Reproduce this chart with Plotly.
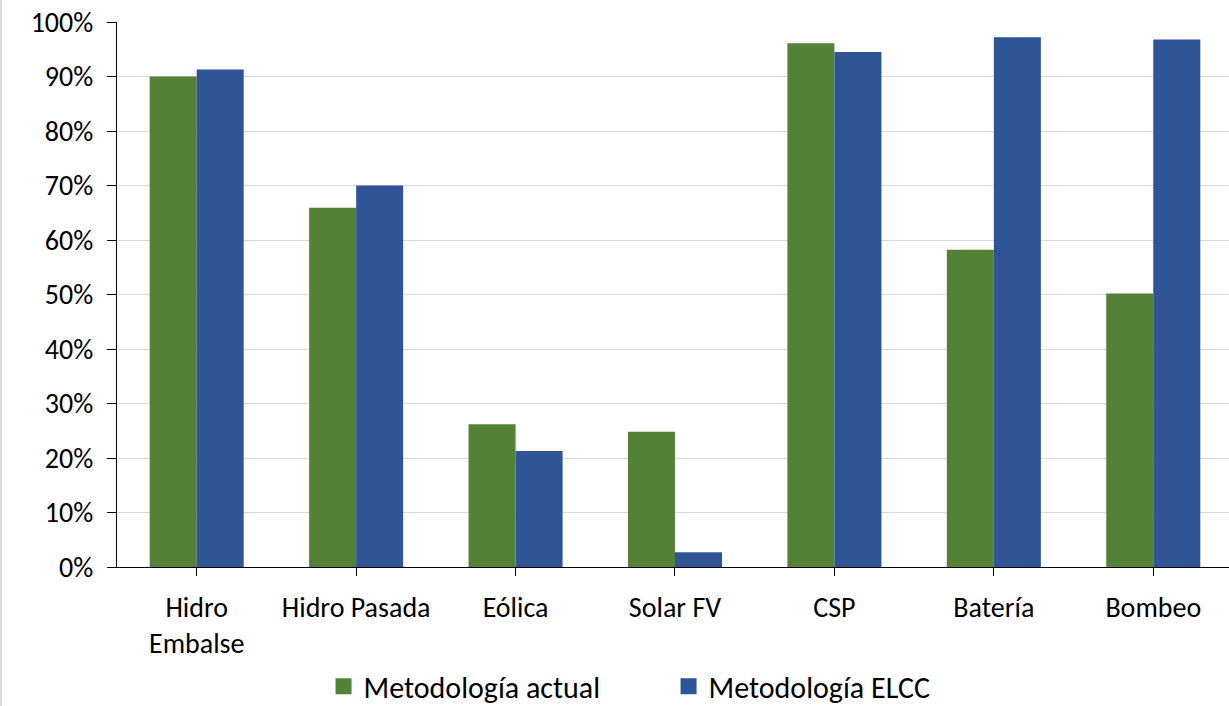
import plotly.graph_objects as go

categorias = ["Hidro<br>Embalse", "Hidro Pasada", "Eólica", "Solar FV", "CSP", "Batería", "Bombeo"]
metodologia_actual = [0.900, 0.659, 0.262, 0.248, 0.961, 0.582, 0.502]
metodologia_elcc = [0.913, 0.700, 0.213, 0.027, 0.945, 0.972, 0.968]

VERDE = "#538135"
AZUL = "#2F5597"
FUENTE = "Carlito, Calibri, Lato, sans-serif"

fig = go.Figure()
fig.add_trace(go.Bar(x=categorias, y=metodologia_actual, name="Metodología actual",
                     marker=dict(color=VERDE, line=dict(width=0)), showlegend=False))
fig.add_trace(go.Bar(x=categorias, y=metodologia_elcc, name="Metodología ELCC",
                     marker=dict(color=AZUL, line=dict(width=0)), showlegend=False))

# legend entries with larger square markers
for nombre, color in [("Metodología actual", VERDE), ("Metodología ELCC", AZUL)]:
    fig.add_trace(go.Scatter(x=[None], y=[None], mode="markers", name=nombre,
                             marker=dict(symbol="square", size=20, color=color)))

fig.update_layout(
    width=1229, height=706,
    margin=dict(l=117, r=0, t=22, b=139, autoexpand=False),
    paper_bgcolor="white", plot_bgcolor="white",
    barmode="group", bargap=0.41, bargroupgap=0,
    font=dict(family=FUENTE, color="#000000", size=28),
    showlegend=True,
    legend=dict(orientation="h", x=0.496, xanchor="center", y=-0.219, yanchor="middle",
                font=dict(size=30, family=FUENTE), itemwidth=30,
                entrywidth=300, entrywidthmode="pixels"),
    xaxis=dict(range=[-0.5, 6.475], showline=True, linecolor="#000000", linewidth=1.3,
               ticks="outside", ticklen=8, tickcolor="#000000", tickwidth=1.3,
               ticklabelstandoff=7, tickfont=dict(size=28), showgrid=False),
    yaxis=dict(range=[0, 1], tickformat=".0%", dtick=0.1, showline=True,
               linecolor="#000000", linewidth=1.3, ticks="outside", ticklen=9,
               tickcolor="#000000", tickwidth=1.3, ticklabelstandoff=8,
               gridcolor="#D9D9D9", gridwidth=1.3, zeroline=False,
               tickfont=dict(size=28)),
    shapes=[dict(type="line", xref="paper", yref="paper",
                 x0=-0.1043, x1=-0.1043, y0=-0.26, y1=1.05,
                 line=dict(color="#D9D9D9", width=2))],
)

fig.write_html("out.html")
